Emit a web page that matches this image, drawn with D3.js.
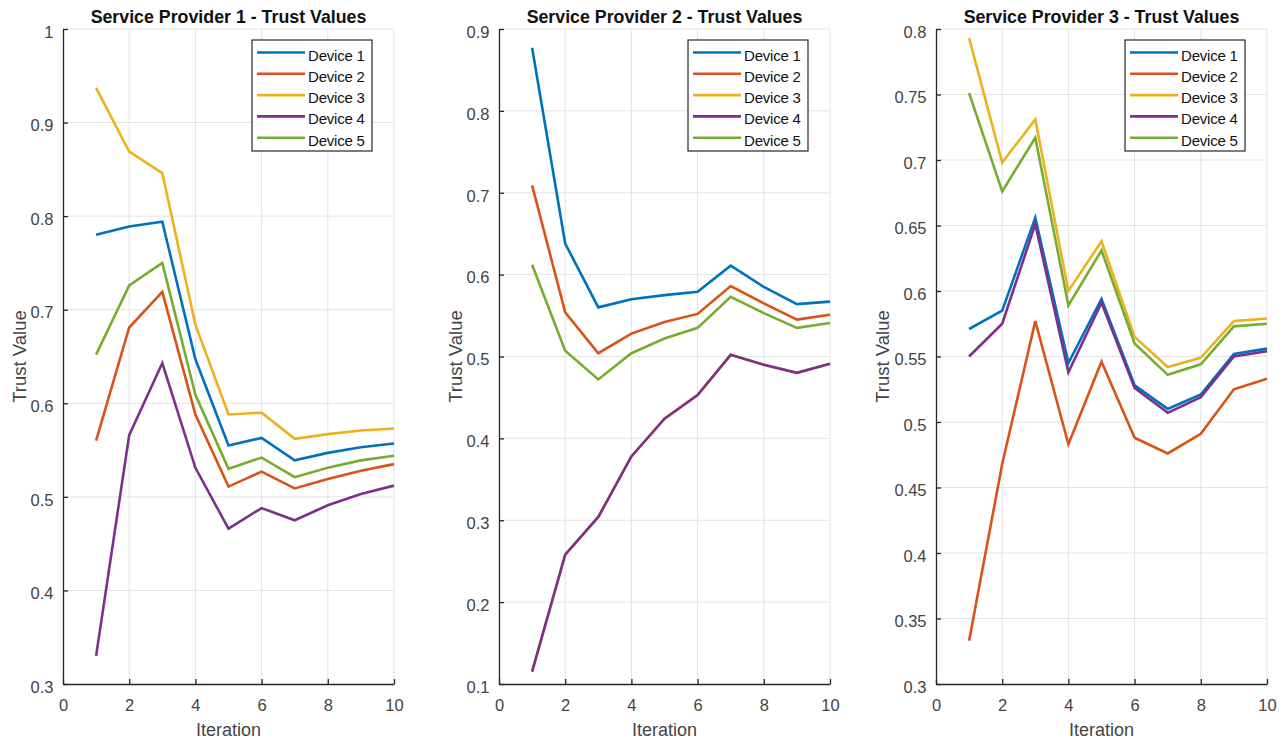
<!DOCTYPE html>
<html>
<head>
<meta charset="utf-8">
<script src="https://cdn.jsdelivr.net/npm/d3@7"></script>
<style>
    body { margin: 0; background: #fff; }
    text { font-family: "Liberation Sans", Arial, sans-serif; }
</style>
</head>
<body>
<svg id="chart" width="1283" height="744"></svg>
<script>
const iterations = [1, 2, 3, 4, 5, 6, 7, 8, 9, 10];
const deviceNames = ["Device 1", "Device 2", "Device 3", "Device 4", "Device 5"];
const providerTitles = [
    "Service Provider 1 - Trust Values",
    "Service Provider 2 - Trust Values",
    "Service Provider 3 - Trust Values"
];

// trust values per device, one row per device
const sp1Values = [
    [0.780, 0.789, 0.794, 0.647, 0.555, 0.563, 0.539, 0.547, 0.553, 0.557],
    [0.560, 0.681, 0.719, 0.588, 0.511, 0.527, 0.509, 0.519, 0.528, 0.535],
    [0.937, 0.869, 0.846, 0.684, 0.588, 0.590, 0.562, 0.567, 0.571, 0.573],
    [0.330, 0.566, 0.643, 0.531, 0.466, 0.488, 0.475, 0.491, 0.503, 0.512],
    [0.652, 0.726, 0.750, 0.609, 0.530, 0.542, 0.521, 0.531, 0.539, 0.544]
];
const sp2Values = [
    [0.877, 0.638, 0.560, 0.570, 0.575, 0.579, 0.611, 0.585, 0.564, 0.567],
    [0.709, 0.554, 0.504, 0.528, 0.542, 0.552, 0.586, 0.565, 0.545, 0.551],
    [0.115, 0.258, 0.304, 0.378, 0.424, 0.453, 0.502, 0.490, 0.480, 0.491],
    [0.115, 0.258, 0.304, 0.378, 0.424, 0.453, 0.502, 0.490, 0.480, 0.491],
    [0.612, 0.507, 0.472, 0.504, 0.522, 0.535, 0.573, 0.553, 0.535, 0.541]
];
const sp3Values = [
    [0.571, 0.585, 0.656, 0.545, 0.594, 0.528, 0.510, 0.521, 0.552, 0.556],
    [0.333, 0.468, 0.577, 0.483, 0.546, 0.488, 0.476, 0.491, 0.525, 0.533],
    [0.793, 0.698, 0.731, 0.600, 0.638, 0.565, 0.542, 0.549, 0.577, 0.579],
    [0.550, 0.575, 0.651, 0.538, 0.591, 0.526, 0.507, 0.519, 0.550, 0.554],
    [0.751, 0.676, 0.717, 0.589, 0.631, 0.560, 0.536, 0.544, 0.573, 0.575]
];

const xTicks = [0, 2, 4, 6, 8, 10];
const sp1YTicks = [0.3, 0.4, 0.5, 0.6, 0.7, 0.8, 0.9, 1];
const sp2YTicks = [0.1, 0.2, 0.3, 0.4, 0.5, 0.6, 0.7, 0.8, 0.9];
const sp3YTicks = [0.3, 0.35, 0.4, 0.45, 0.5, 0.55, 0.6, 0.65, 0.7, 0.75, 0.8];

const colors = ["#0072BD", "#D95319", "#EDB120", "#7E2F8E", "#77AC30"];

const panels = [
    { title: providerTitles[0], values: sp1Values, yTicks: sp1YTicks, left: 63 },
    { title: providerTitles[1], values: sp2Values, yTicks: sp2YTicks, left: 499 },
    { title: providerTitles[2], values: sp3Values, yTicks: sp3YTicks, left: 936 }
];

const svg = d3.select("#chart");
const plotTop = 29, plotBottom = 684, plotWidth = 331;
const axisColor = "#262626";
const gridColor = "#e3e3e3";
const labelColor = "#444";

panels.forEach(p => {
    const g = svg.append("g").attr("transform", `translate(${p.left},0)`);
    const x = d3.scaleLinear().domain([0, 10]).range([0, plotWidth]);
    const y = d3.scaleLinear().domain(d3.extent(p.yTicks)).range([plotBottom, plotTop]);

    // grid
    g.append("g")
        .selectAll("line").data(xTicks.slice(1)).enter().append("line")
        .attr("x1", d => x(d)).attr("x2", d => x(d))
        .attr("y1", plotTop).attr("y2", plotBottom)
        .attr("stroke", gridColor).attr("stroke-width", 1);
    g.append("g")
        .selectAll("line").data(p.yTicks.slice(1)).enter().append("line")
        .attr("x1", 0).attr("x2", plotWidth)
        .attr("y1", d => y(d)).attr("y2", d => y(d))
        .attr("stroke", gridColor).attr("stroke-width", 1);

    // axes
    const xAxis = g.append("g").attr("transform", `translate(0,${plotBottom})`)
        .call(d3.axisBottom(x).tickValues(xTicks).tickSizeInner(-5).tickSizeOuter(0).tickFormat(d3.format("d")));
    const yAxis = g.append("g")
        .call(d3.axisLeft(y).tickValues(p.yTicks).tickSizeInner(-5).tickSizeOuter(0).tickPadding(9.5).tickFormat(d => String(+d.toFixed(2))));
    [xAxis, yAxis].forEach(a => {
        a.select(".domain").attr("stroke", axisColor).attr("stroke-width", 1.3);
        a.selectAll(".tick line").attr("stroke", axisColor).attr("stroke-width", 1.3);
        a.selectAll(".tick text").attr("fill", labelColor).style("font-size", "16.5px")
            .style("font-family", "\"Liberation Sans\", Arial, sans-serif");
    });
    xAxis.selectAll(".tick text").attr("y", 27).attr("dy", 0);
    yAxis.selectAll(".tick text").attr("dy", "0.5em");

    // series
    const line = d3.line().x((d, i) => x(iterations[i])).y(d => y(d));
    p.values.forEach((vals, k) => {
        g.append("path").datum(vals)
            .attr("fill", "none")
            .attr("stroke", colors[k])
            .attr("stroke-width", 2.6)
            .attr("stroke-linejoin", "miter")
            .attr("d", line);
    });

    // title and labels
    g.append("text").attr("x", plotWidth / 2).attr("y", 22.5)
        .attr("text-anchor", "middle").attr("fill", "#111")
        .style("font-size", "17.8px").style("font-weight", "bold")
        .text(p.title);
    g.append("text").attr("x", plotWidth / 2).attr("y", 736)
        .attr("text-anchor", "middle").attr("fill", labelColor)
        .style("font-size", "18px")
        .text("Iteration");

    // y label sits just left of the widest tick label
    let minX = 0;
    yAxis.selectAll(".tick text").each(function () {
        minX = Math.min(minX, this.getBBox().x);
    });
    g.append("text")
        .attr("transform", `translate(${minX - 5},${(plotTop + plotBottom) / 2}) rotate(-90)`)
        .attr("text-anchor", "middle").attr("fill", labelColor)
        .style("font-size", "18.5px")
        .text("Trust Value");

    // legend
    const lg = g.append("g").attr("transform", `translate(${plotWidth - 142},11)`);
    lg.append("rect").attr("x", 0).attr("y", 29).attr("width", 120).attr("height", 111)
        .attr("fill", "#fff").attr("stroke", axisColor).attr("stroke-width", 1.2);
    deviceNames.forEach((name, k) => {
        const ly = 41.5 + k * 21.3;
        lg.append("line").attr("x1", 5).attr("x2", 53).attr("y1", ly).attr("y2", ly)
            .attr("stroke", colors[k]).attr("stroke-width", 2.6);
        lg.append("text").attr("x", 56).attr("y", ly + 8)
            .attr("fill", "#111").style("font-size", "15px").style("letter-spacing", "-0.2px")
            .text(name);
    });
});
</script>
</body>
</html>
